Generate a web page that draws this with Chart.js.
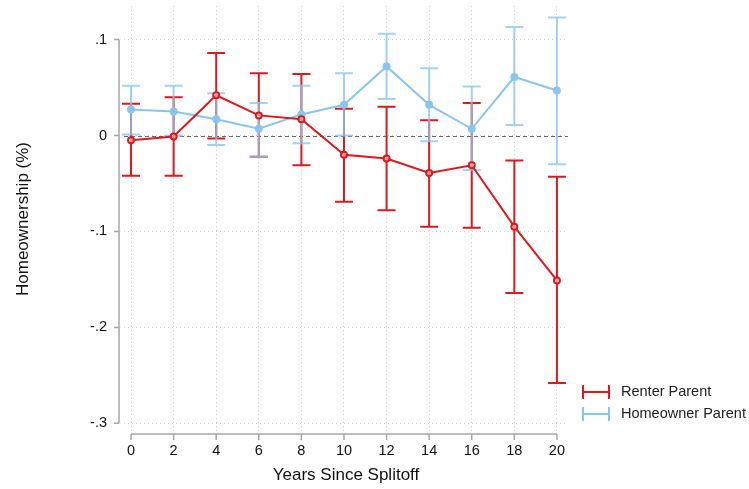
<!DOCTYPE html>
<html>
<head>
<meta charset="utf-8">
<script src="https://cdn.jsdelivr.net/npm/chart.js@4"></script>
<style>
    html, body { margin: 0; padding: 0; background: #fff; }
    #wrap { width: 749px; height: 489px; position: relative; }
</style>
</head>
<body>
<div id="wrap"><canvas id="chart"></canvas></div>
<script>
// ================= DATA =================
const years = [0, 2, 4, 6, 8, 10, 12, 14, 16, 18, 20];

const renterEst = [-0.005, -0.001, 0.042, 0.021, 0.017, -0.020, -0.024, -0.039, -0.031, -0.095, -0.151];
const renterHi  = [0.033, 0.040, 0.086, 0.065, 0.064, 0.028, 0.030, 0.016, 0.034, -0.026, -0.043];
const renterLo  = [-0.042, -0.042, -0.003, -0.022, -0.031, -0.069, -0.078, -0.095, -0.096, -0.164, -0.258];

const ownerEst = [0.027, 0.025, 0.017, 0.007, 0.022, 0.032, 0.072, 0.032, 0.007, 0.061, 0.047];
const ownerHi  = [0.052, 0.052, 0.044, 0.034, 0.052, 0.065, 0.106, 0.070, 0.051, 0.113, 0.123];
const ownerLo  = [0.001, 0.000, -0.010, -0.022, -0.008, 0.000, 0.038, -0.006, -0.036, 0.011, -0.030];

const xTicks = [0, 2, 4, 6, 8, 10, 12, 14, 16, 18, 20];
const yTicks = [0.1, 0, -0.1, -0.2, -0.3];
const yTickLabels = ['.1', '0', '-.1', '-.2', '-.3'];

const seriesNames = ['Renter Parent', 'Homeowner Parent'];

const RED = '#d91a20';
const BLUE = '#8cc5ea';
const FONT = '"Liberation Sans", Arial, sans-serif';

function points(vals) {
    return years.map((x, i) => ({ x: x, y: vals[i] }));
}

// ================= ERROR BARS + AXES + LEGEND =================
const stataBits = {
    id: 'stataBits',
    beforeDatasetsDraw(chart) {
        const ctx = chart.ctx;
        const xs = chart.scales.x, ys = chart.scales.y;
        const area = chart.chartArea;

        // zero reference line
        ctx.save();
        ctx.beginPath();
        ctx.setLineDash([4, 3]);
        ctx.strokeStyle = '#666';
        ctx.lineWidth = 1.2;
        const y0 = Math.round(ys.getPixelForValue(0)) + 0.5;
        ctx.moveTo(area.left, y0);
        ctx.lineTo(area.right, y0);
        ctx.stroke();
        ctx.restore();

        // capped spikes
        chart.data.datasets.forEach(ds => {
            ctx.save();
            ctx.strokeStyle = ds.errColor;
            ctx.lineWidth = 2;
            ds.errLo.forEach((lo, i) => {
                const px = xs.getPixelForValue(years[i]);
                const pLo = ys.getPixelForValue(lo);
                const pHi = ys.getPixelForValue(ds.errHi[i]);
                ctx.beginPath();
                ctx.moveTo(px, pLo);
                ctx.lineTo(px, pHi);
                ctx.moveTo(px - 9, pLo);
                ctx.lineTo(px + 9, pLo);
                ctx.moveTo(px - 9, pHi);
                ctx.lineTo(px + 9, pHi);
                ctx.stroke();
            });
            ctx.restore();
        });
    },
    afterDraw(chart) {
        const ctx = chart.ctx;
        const xs = chart.scales.x, ys = chart.scales.y;
        const area = chart.chartArea;

        ctx.save();
        ctx.strokeStyle = '#a6a6a6';
        ctx.lineWidth = 1.5;

        // y axis, offset left of plot region
        const ax = area.left - 5;
        ctx.beginPath();
        ctx.moveTo(ax, ys.getPixelForValue(yTicks[0]));
        ctx.lineTo(ax, ys.getPixelForValue(yTicks[yTicks.length - 1]));
        yTicks.forEach(v => {
            const py = ys.getPixelForValue(v);
            ctx.moveTo(ax, py);
            ctx.lineTo(ax - 5, py);
        });
        ctx.stroke();

        // x axis, offset below plot region
        const ay = area.bottom + 2;
        ctx.beginPath();
        ctx.moveTo(xs.getPixelForValue(xTicks[0]), ay);
        ctx.lineTo(xs.getPixelForValue(xTicks[xTicks.length - 1]), ay);
        xTicks.forEach(v => {
            const px = xs.getPixelForValue(v);
            ctx.moveTo(px, ay);
            ctx.lineTo(px, ay + 6);
        });
        ctx.stroke();
        ctx.restore();

        // legend
        const lx = 582, ly = [392, 414];
        chart.data.datasets.forEach((ds, i) => {
            ctx.save();
            ctx.strokeStyle = ds.borderColor;
            ctx.lineWidth = 2;
            ctx.beginPath();
            ctx.moveTo(lx, ly[i]);
            ctx.lineTo(lx + 28, ly[i]);
            ctx.moveTo(lx + 1, ly[i] - 7);
            ctx.lineTo(lx + 1, ly[i] + 7);
            ctx.moveTo(lx + 27, ly[i] - 7);
            ctx.lineTo(lx + 27, ly[i] + 7);
            ctx.stroke();
            ctx.fillStyle = '#222';
            ctx.font = '14.5px ' + FONT;
            ctx.textBaseline = 'middle';
            ctx.fillText(ds.label, lx + 39, ly[i]);
            ctx.restore();
        });
    }
};

// ================= CHART =================
new Chart(document.getElementById('chart'), {
    type: 'line',
    data: {
        datasets: [{
            label: seriesNames[0],
            data: points(renterEst),
            errLo: renterLo,
            errHi: renterHi,
            errColor: RED,
            borderColor: RED,
            backgroundColor: '#fff',
            pointBorderColor: RED,
            pointBackgroundColor: 'rgba(255,255,255,0.5)',
            pointBorderWidth: 2,
            pointRadius: 3,
            borderWidth: 2,
            tension: 0
        }, {
            label: seriesNames[1],
            data: points(ownerEst),
            errLo: ownerLo,
            errHi: ownerHi,
            errColor: 'rgba(140,197,234,0.8)',
            borderColor: BLUE,
            backgroundColor: BLUE,
            pointBorderColor: BLUE,
            pointBackgroundColor: BLUE,
            pointRadius: 4,
            pointBorderWidth: 0,
            borderWidth: 2,
            tension: 0
        }]
    },
    options: {
        responsive: true,
        maintainAspectRatio: false,
        animation: false,
        layout: {
            padding: { top: 3, right: 181, left: 0, bottom: 0 }
        },
        plugins: {
            legend: { display: false },
            tooltip: { enabled: false }
        },
        scales: {
            x: {
                type: 'linear',
                min: -0.33,
                max: 20.52,
                afterBuildTicks: s => { s.ticks = xTicks.map(v => ({ value: v })); },
                afterFit: s => { s.height = 57; s.paddingLeft = 0; s.paddingRight = 0; },
                grid: {
                    color: '#cfcfcf',
                    lineWidth: 1,
                    drawTicks: false
                },
                border: { display: false, dash: [1, 3] },
                ticks: {
                    color: '#111',
                    padding: 10,
                    maxRotation: 0,
                    autoSkip: false,
                    font: { family: FONT, size: 14.5 }
                },
                title: {
                    display: true,
                    text: 'Years Since Splitoff',
                    color: '#111',
                    padding: { top: 0, bottom: 3 },
                    font: { family: FONT, size: 17 }
                }
            },
            y: {
                min: -0.309,
                max: 0.135,
                afterBuildTicks: s => { s.ticks = yTicks.map(v => ({ value: v })); },
                afterFit: s => { s.width = 124; s.paddingTop = 0; s.paddingBottom = 0; },
                grid: {
                    color: '#cfcfcf',
                    lineWidth: 1,
                    drawTicks: false
                },
                border: { display: false, dash: [1, 3] },
                ticks: {
                    color: '#111',
                    padding: 17,
                    autoSkip: false,
                    font: { family: FONT, size: 14.5 },
                    callback: v => yTickLabels[yTicks.findIndex(t => Math.abs(t - v) < 1e-9)]
                },
                title: {
                    display: true,
                    text: 'Homeownership (%)',
                    color: '#111',
                    padding: { top: 13, bottom: 0 },
                    font: { family: FONT, size: 17 }
                }
            }
        }
    },
    plugins: [stataBits]
});
</script>
</body>
</html>
